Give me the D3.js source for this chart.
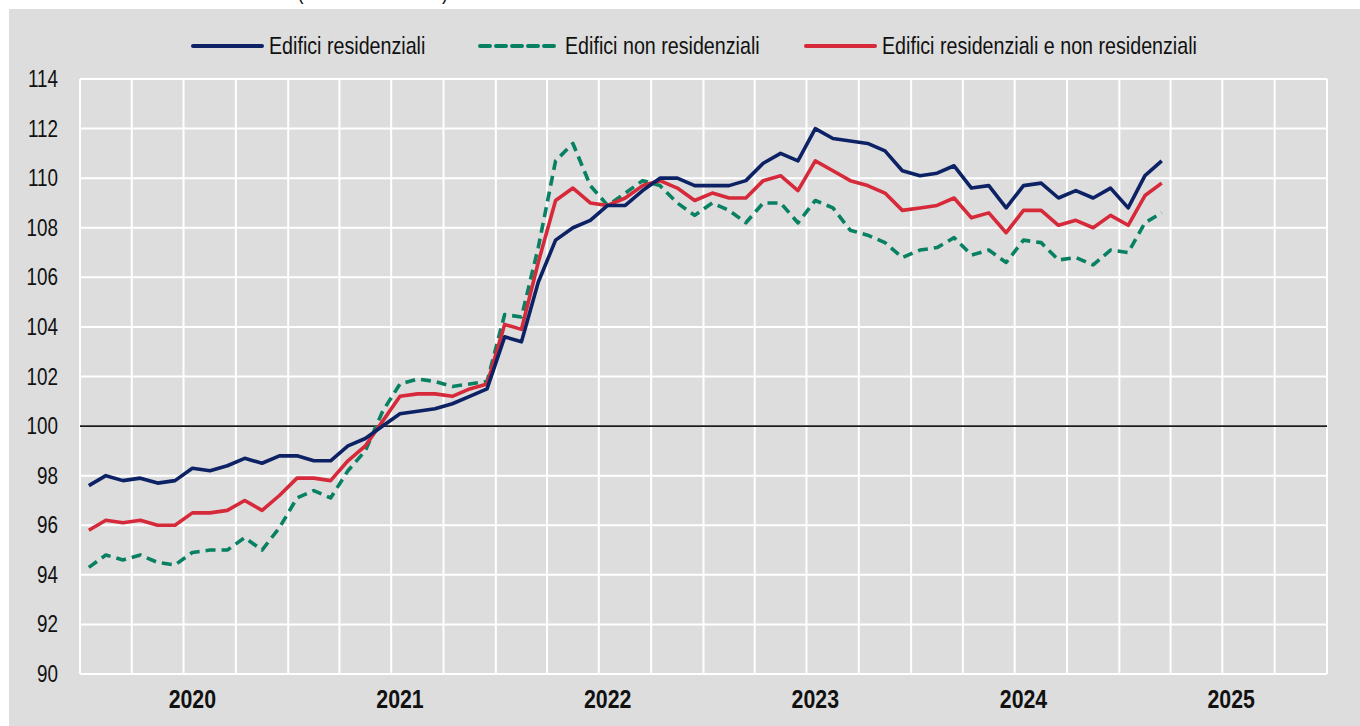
<!DOCTYPE html>
<html>
<head>
<meta charset="utf-8">
<script src="https://cdn.jsdelivr.net/npm/d3@7"></script>
<style>
  body { margin: 0; background: #fff; }
  svg text { font-family: "Liberation Sans", Arial, sans-serif; fill: #111; }
</style>
</head>
<body>
<div id="container"></div>
<script>
// CONSTANTS ###############################
const width = 1360,
  height = 726,
  margin = { top: 79, left: 80, right: 33, bottom: 52 };
const narrow = 0.82; // horizontal squeeze to imitate Arial Narrow

// DATA (monthly, Jan 2020 - Mar 2025) #####
const years = ["2020", "2021", "2022", "2023", "2024", "2025"];
const yTicks = [90, 92, 94, 96, 98, 100, 102, 104, 106, 108, 110, 112, 114];

const residenziali = [
  97.6, 98.0, 97.8, 97.9, 97.7, 97.8, 98.3, 98.2, 98.4, 98.7, 98.5, 98.8,
  98.8, 98.6, 98.6, 99.2, 99.5, 100.0, 100.5, 100.6, 100.7, 100.9, 101.2, 101.5,
  103.6, 103.4, 105.8, 107.5, 108.0, 108.3, 108.9, 108.9, 109.5, 110.0, 110.0, 109.7,
  109.7, 109.7, 109.9, 110.6, 111.0, 110.7, 112.0, 111.6, 111.5, 111.4, 111.1, 110.3,
  110.1, 110.2, 110.5, 109.6, 109.7, 108.8, 109.7, 109.8, 109.2, 109.5, 109.2, 109.6,
  108.8, 110.1, 110.7
];

const nonResidenziali = [
  94.3, 94.8, 94.6, 94.8, 94.5, 94.4, 94.9, 95.0, 95.0, 95.5, 95.0, 95.9,
  97.1, 97.4, 97.1, 98.2, 99.0, 100.6, 101.7, 101.9, 101.8, 101.6, 101.7, 101.8,
  104.5, 104.4, 107.2, 110.7, 111.4, 109.7, 108.9, 109.4, 109.9, 109.7, 109.0, 108.5,
  109.0, 108.7, 108.2, 109.0, 109.0, 108.2, 109.1, 108.8, 107.9, 107.7, 107.4, 106.8,
  107.1, 107.2, 107.6, 106.9, 107.1, 106.6, 107.5, 107.4, 106.7, 106.8, 106.5, 107.1,
  107.0, 108.2, 108.6
];

const totale = [
  95.8, 96.2, 96.1, 96.2, 96.0, 96.0, 96.5, 96.5, 96.6, 97.0, 96.6, 97.2,
  97.9, 97.9, 97.8, 98.6, 99.2, 100.2, 101.2, 101.3, 101.3, 101.2, 101.5, 101.7,
  104.1, 103.9, 106.6, 109.1, 109.6, 109.0, 108.9, 109.2, 109.7, 109.9, 109.6, 109.1,
  109.4, 109.2, 109.2, 109.9, 110.1, 109.5, 110.7, 110.3, 109.9, 109.7, 109.4, 108.7,
  108.8, 108.9, 109.2, 108.4, 108.6, 107.8, 108.7, 108.7, 108.1, 108.3, 108.0, 108.5,
  108.1, 109.3, 109.8
];

const seriesNames = ["Edifici residenziali", "Edifici non residenziali", "Edifici residenziali e non residenziali"];
const seriesColors = ["#0d2265", "#088062", "#d62a3b"];

const months = d3.timeMonth.range(new Date(2020, 0, 1), new Date(2025, 3, 1));
const series = [residenziali, nonResidenziali, totale].map((vals, k) => ({
  name: seriesNames[k],
  color: seriesColors[k],
  dashed: k === 1,
  values: vals.map((v, i) => ({ date: months[i], value: v }))
}));

// SCALES ##################################
const xScale = d3.scaleTime()
  .domain([new Date(2020, 0, 1), new Date(2026, 0, 1)])
  .range([margin.left, width - margin.right]);

const yScale = d3.scaleLinear()
  .domain([90, 114])
  .range([height - margin.bottom, margin.top]);

// centre of a month slot
const midMonth = d => (xScale(d) + xScale(d3.timeMonth.offset(d, 1))) / 2;

// DRAW ####################################
const svg = d3.select("#container")
  .append("svg")
  .attr("width", width)
  .attr("height", height);

// title, mostly cut off at the top (as in the original)
svg.append("text")
  .attr("transform", `translate(297,-1) scale(${narrow},1)`)
  .style("font-size", "24px")
  .text("(indici 2021=100)");

svg.append("rect")
  .attr("x", 9)
  .attr("y", 9)
  .attr("width", width - 9)
  .attr("height", height - 9)
  .attr("fill", "#dddddd");

// grid
const quarters = d3.timeMonth.every(3).range(new Date(2020, 0, 1), new Date(2026, 0, 2));
svg.append("g")
  .selectAll("line")
  .data(quarters)
  .join("line")
  .attr("x1", d => xScale(d))
  .attr("x2", d => xScale(d))
  .attr("y1", margin.top)
  .attr("y2", height - margin.bottom)
  .attr("stroke", "#fff")
  .attr("stroke-width", 2);

svg.append("g")
  .selectAll("line")
  .data(yTicks)
  .join("line")
  .attr("x1", margin.left)
  .attr("x2", width - margin.right)
  .attr("y1", d => yScale(d))
  .attr("y2", d => yScale(d))
  .attr("stroke", "#fff")
  .attr("stroke-width", 2);

// 100 line
svg.append("line")
  .attr("x1", margin.left)
  .attr("x2", width - margin.right)
  .attr("y1", yScale(100))
  .attr("y2", yScale(100))
  .attr("stroke", "#1a1a1a")
  .attr("stroke-width", 1.6);

// y axis labels
svg.append("g")
  .selectAll("text")
  .data(yTicks)
  .join("text")
  .attr("transform", d => `translate(58,${yScale(d) + 8}) scale(${narrow},1)`)
  .attr("text-anchor", "end")
  .style("font-size", "23px")
  .text(d => d);

// year labels (at July)
svg.append("g")
  .selectAll("text")
  .data(years)
  .join("text")
  .attr("transform", d => `translate(${midMonth(new Date(+d, 6, 1))},708) scale(${narrow},1)`)
  .attr("text-anchor", "middle")
  .style("font-size", "26px")
  .style("font-weight", "bold")
  .text(d => d);

// lines
const line = d3.line()
  .x(d => midMonth(d.date))
  .y(d => yScale(d.value));

svg.append("g")
  .selectAll("path")
  .data([series[1], series[2], series[0]])
  .join("path")
  .attr("d", d => line(d.values))
  .attr("fill", "none")
  .attr("stroke", d => d.color)
  .attr("stroke-width", 3.6)
  .attr("stroke-linejoin", "round")
  .attr("stroke-dasharray", d => d.dashed ? "10,6" : null);

// legend
const legendX = [193, 480, 806];
const legend = svg.append("g")
  .selectAll("g")
  .data(series)
  .join("g")
  .attr("transform", (d, i) => `translate(${legendX[i]},46)`);

legend.append("line")
  .attr("x1", 0)
  .attr("x2", d => d.dashed ? 75 : 69)
  .attr("stroke", d => d.color)
  .attr("stroke-width", 4)
  .attr("stroke-linecap", "round")
  .attr("stroke-dasharray", d => d.dashed ? "10,6" : null);

legend.append("text")
  .attr("transform", d => `translate(${d.dashed ? 85 : 76},8) scale(${narrow},1)`)
  .style("font-size", "24px")
  .text(d => d.name);
</script>
</body>
</html>
